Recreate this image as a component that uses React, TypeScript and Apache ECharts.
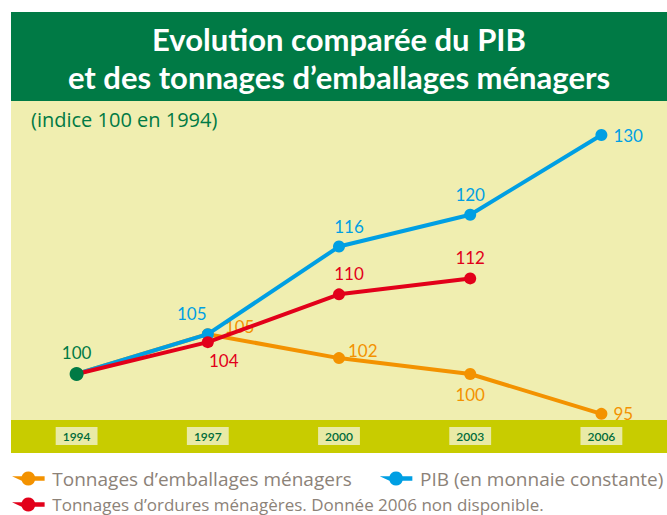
import React, { useEffect, useRef } from "react";
import * as echarts from "echarts";

const years = ["1994", "1997", "2000", "2003", "2006"];
const emballages = [100, 105, 102, 100, 95];
const pib = [100, 105, 116, 120, 130];
const ordures: (number | null)[] = [100, 104, 110, 112, null];

const titleLines = ["Evolution comparée du PIB", "et des tonnages d’emballages ménagers"];
const subtitle = "(indice 100 en 1994)";

const seriesNames = [
  "Tonnages d’emballages ménagers",
  "PIB (en monnaie constante)",
  "Tonnages d’ordures ménagères. Donnée 2006 non disponible.",
];

const ORANGE = "#f39200";
const BLUE = "#009fe3";
const RED = "#e2001a";
const GREEN = "#007a45";

type LabelPos = { position: string; offset?: number[] } | null;

const embLabels: LabelPos[] = [
  null,
  { position: "right", offset: [5, -8] },
  { position: "right", offset: [-3, -8] },
  { position: "bottom", offset: [0, 0] },
  { position: "right", offset: [0, 0] },
];
const pibLabels: LabelPos[] = [
  null,
  { position: "top", offset: [-16, 0] },
  { position: "top", offset: [10, 0] },
  { position: "top", offset: [0, 0] },
  { position: "right", offset: [0, 0] },
];
const ordLabels: LabelPos[] = [
  { position: "top", offset: [0, 0] },
  { position: "bottom", offset: [16, -2] },
  { position: "top", offset: [10, 0] },
  { position: "top", offset: [0, 0] },
  null,
];

const LEGEND_ICON =
  "path://M0,5 L8.34,5 A6,6 0 0 1 19.66,5 L28,5 L28,9 L19.66,9 A6,6 0 0 1 8.34,9 Z";

function buildData(values: (number | null)[], labels: LabelPos[], color: string, isFirstGreen: boolean) {
  return values.map((v, i) => {
    const lab = labels[i];
    if (i === 0) {
      if (isFirstGreen) {
        return {
          value: v,
          symbolSize: 14,
          itemStyle: { color: GREEN },
          label: { show: true, position: "top", color: GREEN, distance: 6 },
        };
      }
      return { value: v, symbolSize: 0, label: { show: false } };
    }
    return {
      value: v,
      label: lab
        ? { show: true, position: lab.position, offset: lab.offset, color, distance: 6 }
        : { show: false },
    };
  });
}

export default function App() {
  const ref = useRef<HTMLDivElement>(null);
  useEffect(() => {
    document.body.style.margin = "0";
    if (!ref.current) return;
    const chart = echarts.init(ref.current, null, { renderer: "svg" });
    const lineSeries = (name: string, data: any[], color: string, z: number) => ({
      name,
      type: "line",
      data,
      z,
      color,
      symbol: "circle",
      symbolSize: 12,
      lineStyle: { width: 4, color },
      itemStyle: { color },
      label: { fontFamily: "Lato", fontSize: 17, color },
      emphasis: { disabled: true },
    });
    const legendCommon = {
      left: 7,
      width: 1200,
      icon: LEGEND_ICON,
      itemWidth: 34,
      itemHeight: 14,
      selectedMode: false,
    };
    const titleStyle = {
      color: "#ffffff",
      fontFamily: "Lato",
      fontWeight: "bold",
      fontSize: 31,
      lineHeight: 31,
    };
    chart.setOption({
      animation: false,
      backgroundColor: "#ffffff",
      textStyle: { fontFamily: "Lato" },
      title: [
        { text: titleLines[0], left: 339, top: 23, textAlign: "center", padding: 0, textStyle: titleStyle },
        { text: titleLines[1], left: 339, top: 61, textAlign: "center", padding: 0, textStyle: titleStyle },
        {
          text: subtitle,
          left: 31,
          top: 109,
          padding: 0,
          textStyle: { color: GREEN, fontFamily: "Open Sans", fontWeight: "normal", fontSize: 20 },
        },
      ],
      graphic: [
        { type: "rect", shape: { x: 11, y: 12, width: 656, height: 89 }, style: { fill: "#007a45" }, z: -1 },
        { type: "rect", shape: { x: 11, y: 420, width: 656, height: 33 }, style: { fill: "#c8cc00" }, z: -1 },
      ],
      grid: {
        left: 11,
        right: 0,
        top: 101,
        bottom: 95,
        show: true,
        backgroundColor: "#f0eeb0",
        borderWidth: 0,
      },
      legend: [
        {
          ...legendCommon,
          data: [seriesNames[0], seriesNames[1]],
          top: 464,
          itemGap: 28,
          textStyle: { color: "#8c8278", fontSize: 19, fontFamily: "Open Sans", padding: [0, 0, 0, 2] },
        },
        {
          ...legendCommon,
          data: [seriesNames[2]],
          top: 491,
          textStyle: { color: "#8c8278", fontSize: 17, fontFamily: "Open Sans", padding: [0, 0, 0, 2] },
        },
      ],
      xAxis: {
        type: "category",
        data: years,
        boundaryGap: true,
        axisLine: { show: false },
        axisTick: { show: false },
        splitLine: { show: false },
        axisLabel: {
          margin: 7,
          color: "#006b3a",
          fontFamily: "Lato",
          fontWeight: 600,
          fontSize: 12,
          backgroundColor: "#e9eaa6",
          padding: [3, 7, 3, 7],
        },
      },
      yAxis: {
        type: "value",
        min: 94.23,
        max: 134.27,
        show: false,
        splitLine: { show: false },
      },
      series: [
        lineSeries(seriesNames[0], buildData(emballages, embLabels, ORANGE, false), ORANGE, 2),
        lineSeries(seriesNames[1], buildData(pib, pibLabels, BLUE, false), BLUE, 3),
        lineSeries(seriesNames[2], buildData(ordures, ordLabels, RED, true), RED, 4),
      ],
    });
    return () => chart.dispose();
  }, []);
  return <div ref={ref} style={{ width: 667, height: 515 }} />;
}
